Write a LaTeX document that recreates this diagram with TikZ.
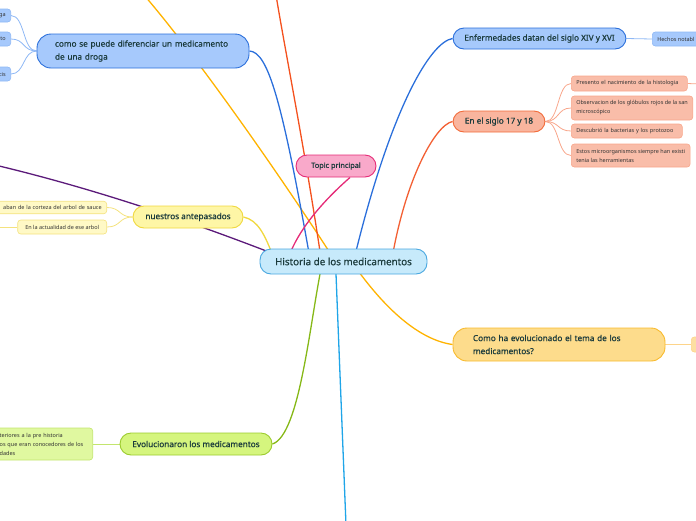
\documentclass[tikz,border=0pt]{standalone}
\usepackage{fontspec}
\setmainfont{Noto Sans}
\newfontfamily\semib[FakeBold=0.6]{Noto Sans}
\usetikzlibrary{backgrounds}
\definecolor{txt}{HTML}{1B3B3C}
\definecolor{ctxt}{HTML}{333333}
\definecolor{cenF}{HTML}{C7EAFB}\definecolor{cenD}{HTML}{4AA8E0}
\definecolor{pinkF}{HTML}{F9A9CA}\definecolor{pinkD}{HTML}{E52B77}
\definecolor{blueF}{HTML}{A6C9FC}\definecolor{blueD}{HTML}{2B6FDB}\definecolor{blueL}{HTML}{8FB8F5}
\definecolor{salF}{HTML}{F9B59E}\definecolor{salD}{HTML}{F26B3A}\definecolor{salCF}{HTML}{F9BDA9}\definecolor{salL}{HTML}{F8A68B}
\definecolor{yelF}{HTML}{FEF6A6}\definecolor{yelD}{HTML}{F0D83E}\definecolor{yelCF}{HTML}{FFF9C6}\definecolor{yelL}{HTML}{F4E27E}
\definecolor{grnF}{HTML}{D5F57E}\definecolor{grnD}{HTML}{9CCB2E}\definecolor{grnCF}{HTML}{E0F8A0}\definecolor{grnL}{HTML}{C3E56E}
\definecolor{ambF}{HTML}{FDDC8C}\definecolor{ambD}{HTML}{F8BA2C}\definecolor{ambCF}{HTML}{FDDFA2}\definecolor{ambL}{HTML}{FDD48A}
\definecolor{purp}{HTML}{5B1A7A}\definecolor{redo}{HTML}{F4511E}\definecolor{amber}{HTML}{FFB300}
\definecolor{cyan}{HTML}{1FA5E8}\definecolor{green}{HTML}{86B817}
\tikzset{
  mainbox/.style={draw, line width=0.9pt, rounded corners=11pt, inner sep=0pt, text=txt,
    font=\semib\fontsize{8.2}{13}\selectfont},
  childbox/.style={draw, line width=0.6pt, rounded corners=3pt, inner xsep=5pt, inner ysep=0pt,
    text=ctxt, font=\fontsize{5.5}{9}\selectfont},
  conn/.style={line width=1.3pt},
  sub/.style={line width=0.8pt},
}
\begin{document}
\begin{tikzpicture}[x=1pt,y=-1pt]
\useasboundingbox (0,0) rectangle (696,520);
% central and main nodes
\node[mainbox, fill=cenF, draw=cenD, minimum width=167pt, minimum height=25pt,
  font=\semib\fontsize{9.8}{12}\selectfont] (cen) at (343.5,261.5) {Historia de los medicamentos};
\node[mainbox, fill=pinkF, draw=pinkD, minimum width=80pt, minimum height=22pt,
  font=\semib\fontsize{7.3}{9}\selectfont] (topic) at (336,166) {Topic principal};
\node[mainbox, fill=blueF, draw=blueD, rounded corners=14pt, minimum width=212pt, minimum height=34pt,
  text width=176pt, align=left] (como) at (143,51) {\mbox{como se puede diferenciar un medicamento}\\de una droga};
\node[mainbox, fill=yelF, draw=yelD, minimum width=110pt, minimum height=22pt] (ante) at (188,217) {nuestros antepasados};
\node[mainbox, fill=grnF, draw=grnD, minimum width=152pt, minimum height=22pt] (evol) at (196,444) {Evolucionaron los medicamentos};
\node[mainbox, fill=blueF, draw=blueD, minimum width=173pt, minimum height=21pt] (enf) at (539.5,38.5) {Enfermedades datan del siglo XIV y XVI};
\node[mainbox, fill=salF, draw=salD, minimum width=92pt, minimum height=21pt] (sig) at (499,121.5) {En el siglo 17 y 18};
\node[mainbox, fill=ambF, draw=ambD, rounded corners=14pt, minimum width=212pt, minimum height=33pt,
  text width=172pt, align=left] (hae) at (559,344.5) {\mbox{Como ha evolucionado el tema de los}\\medicamentos?};
% children
\node[childbox, fill=blueF, draw=blueL, anchor=east, minimum height=13pt, text width=34pt, align=right] (c1) at (11,15.5) {ga};
\node[childbox, fill=blueF, draw=blueL, anchor=east, minimum height=14pt, text width=34pt, align=right] (c2) at (11,39) {to};
\node[childbox, fill=blueF, draw=blueL, anchor=east, minimum height=14pt, text width=34pt, align=right] (c3) at (11,74) {cis};
\node[childbox, fill=yelCF, draw=yelL, anchor=east, minimum height=12.5pt, text width=108pt, align=right] (a1) at (107,207.5) {aban de la corteza del arbol de sauce};
\node[childbox, fill=yelCF, draw=yelL, anchor=east, minimum height=14pt, minimum width=89pt] (a2) at (107,227) {En la actualidad de ese arbol};
\node[childbox, fill=grnCF, draw=grnL, anchor=east, minimum height=32pt, text width=88pt, align=left] (e1) at (93,444) {teriores a la pre historia\\os que eran conocedores de los\\dades};
\node[childbox, fill=blueF, draw=blueL, anchor=west, minimum height=14pt] (h1) at (652,39) {Hechos notabl};
\node[childbox, fill=salCF, draw=salL, anchor=west, minimum height=15pt, text width=106pt, align=left] (s1) at (571,83.5) {Presento el nacimiento de la histologia};
\node[childbox, fill=salCF, draw=salL, anchor=west, minimum height=24pt, align=left] (s2) at (571,108) {Observacion de los glóbulos rojos de la san\\microscópico};
\node[childbox, fill=salCF, draw=salL, anchor=west, minimum height=14pt, text width=101pt, align=left] (s3) at (571,131) {Descubrió la bacterias y los protozoo};
\node[childbox, fill=salCF, draw=salL, anchor=west, minimum height=23pt, align=left] (s4) at (571,155.5) {Estos microorganismos siempre han existi\\tenia las herramientas};
\node[childbox, fill=ambCF, draw=ambL, anchor=west, minimum height=15pt, minimum width=20pt] (h2) at (691,344.5) {};
% free ends
\coordinate (offTL) at (144,-5);
\coordinate (offT) at (276,-5);
\coordinate (offL) at (-5,165);
\coordinate (offB) at (346,525);
\coordinate (offA) at (-5,227);
\coordinate (offS) at (700,84);
\begin{pgfonlayer}{background}
\draw[conn, amber] ([xshift=-8pt]cen.center) .. controls (290,190) and (200,60) .. (offTL);
\draw[conn, redo] ([xshift=-22pt]cen.center) .. controls (305,150) and (285,50) .. (offT);
\draw[conn, purp] ([xshift=-63pt,yshift=5pt]cen.center) .. controls (200,225) and (100,190) .. (offL);
\draw[conn, cyan] ([xshift=-8pt]cen.center) -- (offB);
\draw[conn, blueD] (como.east) .. controls (268,52) and (282,100) .. ([xshift=-33pt]cen.center);
\draw[conn, blueD] (enf.west) .. controls (430,42) and (390,110) .. ([xshift=10pt]cen.center);
\draw[conn, salD!90!red] (sig.west) .. controls (435,125) and (405,180) .. ([xshift=48pt]cen.center);
\draw[conn, pinkD] ([xshift=-55pt,yshift=4pt]cen.center) .. controls (300,225) and (330,195) .. ([xshift=14pt]topic.south);
\draw[conn, yelD] (ante.east) .. controls (258,220) and (265,235) .. ([xshift=-70pt,yshift=4pt]cen.center);
\draw[conn, green] (evol.east) .. controls (300,435) and (310,320) .. ([xshift=-21pt]cen.center);
\draw[conn, amber] ([xshift=8pt]cen.center) .. controls (385,310) and (420,340) .. (hae.west);
% sub connectors
\foreach \c in {c1,c2,c3} \draw[sub, blueL] (\c.east) .. controls +(14,0) and +(-14,0) .. (como.west);
\foreach \c in {a1,a2} \draw[sub, yelL] (\c.east) .. controls +(14,0) and +(-14,0) .. (ante.west);
\draw[sub, yelL] (a2.west) -- (offA);
\draw[sub, grnL] (e1.east) -- (evol.west);
\draw[sub, blueL] (enf.east) -- (h1.west);
\foreach \c in {s1,s2,s3,s4} \draw[sub, salL] (sig.east) .. controls +(14,0) and +(-14,0) .. (\c.west);
\draw[sub, salL] (s1.east) -- (offS);
\draw[sub, ambL] (hae.east) -- (h2.west);
\end{pgfonlayer}
\end{tikzpicture}
\end{document}
